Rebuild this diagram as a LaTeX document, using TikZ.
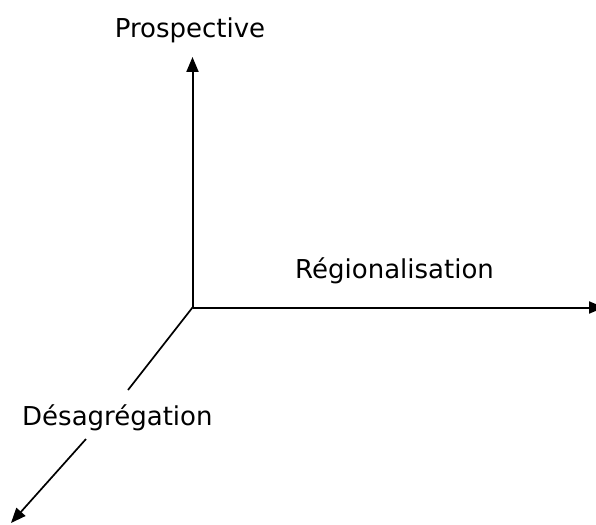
\documentclass[tikz,border=0pt]{standalone}
\usepackage{fontspec}
\setmainfont{DejaVu Sans}
\usetikzlibrary{arrows.meta}
\begin{document}
\begin{tikzpicture}[x=1pt,y=-1pt,
  axis/.style={line width=2pt,-{Triangle[length=15pt,width=12pt]}},
  seg/.style={line width=1.7pt},
  lbl/.style={inner sep=0pt,font=\fontsize{26}{30}\selectfont}]
\useasboundingbox (0,0) rectangle (596,524);
\coordinate (O) at (192.5,307.5);
\coordinate (top) at (192.5,57);
\coordinate (right) at (604,307.5);
\coordinate (d1) at (128,390);
\coordinate (d2) at (86,439);
\coordinate (tip) at (11,523);
\node[lbl,anchor=base] (p) at (190,38) {Prospective};
\node[lbl,anchor=base west] (r) at (295,278) {Régionalisation};
\node[lbl,anchor=base west] (d) at (22,425) {Désagrégation};
\draw[axis] (O) -- (top);
\draw[axis] (O) -- (right);
\draw[seg] (O) -- (d1);
\draw[seg,-{Triangle[length=15pt,width=12pt]}] (d2) -- (tip);
\end{tikzpicture}
\end{document}
